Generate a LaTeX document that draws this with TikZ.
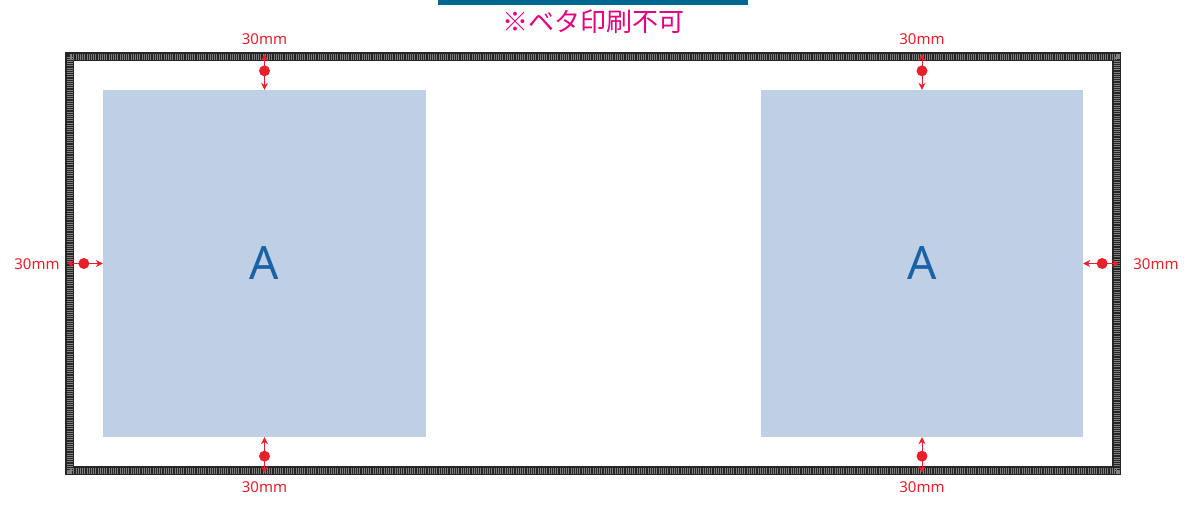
\documentclass[tikz,border=0pt]{standalone}
\usepackage{fontspec}
\setmainfont{Noto Sans}
\newfontfamily\jpfont{Noto Sans CJK JP}
\usetikzlibrary{arrows.meta}
\definecolor{areablue}{HTML}{BFCFE4}
\definecolor{letterblue}{HTML}{1A62A6}
\definecolor{markred}{HTML}{E8202A}
\definecolor{notemagenta}{HTML}{E4007F}
\definecolor{barblue}{HTML}{006890}
\tikzset{
  printarea/.style={fill=areablue,minimum width=323pt,minimum height=347pt,inner sep=0pt,
    text=letterblue,font=\fontsize{46}{46}\selectfont},
  gap/.style={markred,line width=1pt,
    {Stealth[length=7pt,width=7pt]}-{Stealth[length=7pt,width=7pt]}},
  gapdot/.style={circle,fill=markred,minimum size=11pt,inner sep=0pt},
  gaplabel/.style={text=markred,font=\fontsize{15}{15}\selectfont,inner sep=0pt}
}
\begin{document}
\begin{tikzpicture}[x=1pt,y=-1pt]
    \useasboundingbox (0,0) rectangle (1200,515);
    \fill[barblue] (438,0) rectangle (748,5);
    \node[text=notemagenta,font=\jpfont\fontsize{26}{26}\selectfont] (note) at (593,22) {※ベタ印刷不可};
    % frame
    \draw[line width=9pt,black!85] (69.5,56.5) rectangle (1116.5,470.5);
    \draw[line width=6pt,black!50,dash pattern=on 0.9pt off 1.3pt] (69.5,56.5) rectangle (1116.5,470.5);
    \coordinate (topL) at (264.5,54);
    \coordinate (botL) at (264.5,473);
    \coordinate (topR) at (922,54);
    \coordinate (botR) at (922,473);
    \coordinate (sideL) at (67,263.5);
    \coordinate (sideR) at (1119,263.5);
    % areas
    \node[printarea] (areaL) at (264.5,263.5) {A};
    \node[printarea,minimum width=322pt] (areaR) at (922,263.5) {A};
    % margins
    \draw[gap] (areaL.north) -- (topL) node[gapdot,pos=0.53] {};
    \draw[gap] (areaL.south) -- (botL) node[gapdot,pos=0.53] {};
    \draw[gap] (areaL.west) -- (sideL) node[gapdot,pos=0.53] {};
    \draw[gap] (areaR.north) -- (topR) node[gapdot,pos=0.53] {};
    \draw[gap] (areaR.south) -- (botR) node[gapdot,pos=0.53] {};
    \draw[gap] (areaR.east) -- (sideR) node[gapdot,pos=0.53] {};
    \node[gaplabel] (labTL) at (264.5,39) {30mm};
    \node[gaplabel] (labBL) at (264.5,487) {30mm};
    \node[gaplabel] (labSL) at (37,264) {30mm};
    \node[gaplabel] (labTR) at (922,39) {30mm};
    \node[gaplabel] (labBR) at (922,487) {30mm};
    \node[gaplabel] (labSR) at (1156,264) {30mm};
\end{tikzpicture}
\end{document}
